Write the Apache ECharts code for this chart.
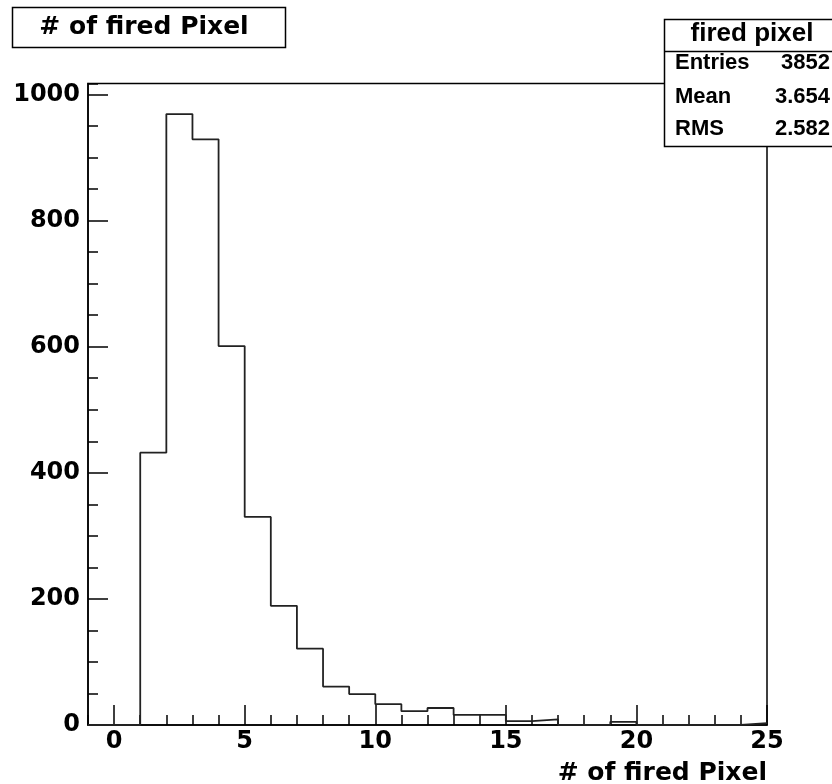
<!DOCTYPE html>
<html>
<head>
<meta charset="utf-8">
<title># of fired Pixel</title>
<script src="https://cdn.jsdelivr.net/npm/echarts@6/dist/echarts.min.js"></script>
<style>
  html, body { margin: 0; padding: 0; background: #fff; }
  #chart { width: 832px; height: 784px; }
</style>
</head>
<body>
<div id="chart"></div>
<script>
// Histogram of the number of fired pixels per event (bin width 1).
const binLowEdges = [-1, 0, 1, 2, 3, 4, 5, 6, 7, 8, 9, 10, 11, 12, 13, 14, 15, 16, 17, 18, 19, 20, 21, 22, 23, 24];
const binCounts   = [0, 0, 432, 969, 929, 601, 330, 189, 121, 61, 49, 33, 22, 27, 16, 16, 6, 9, 0, 0, 5, 0, 0, 0, 0, 3];
const binWidth = 1;

// Axis ranges and labelled tick positions
const xRange = [-1, 25];
const yRange = [0, 1017.5];
const xMajorTicks = [0, 5, 10, 15, 20, 25];
const yMajorTicks = [0, 200, 400, 600, 800, 1000];

// Statistics box contents
const statsTitle = 'fired pixel';
const statsNames = ['Entries', 'Mean', 'RMS'];
const statsValues = ['3852', '3.654', '2.582'];

const histTitle = '# of fired Pixel';
const xTitle = '# of fired Pixel';

// Histogram outline in data space: flat top over each bin, joined edge to edge
const outline = [];
binLowEdges.forEach((lo, i) => {
  outline.push([lo, binCounts[i]]);
  outline.push([lo + binWidth, binCounts[i]]);
});

const labelFont = {
  fontFamily: 'DejaVu Sans',
  fontWeight: 'bold',
  fontSize: 24,
  color: '#000'
};
const plainNumber = v => String(v);

const frameColor = '#000';

const statsTop = 19, statsLeft = 664, statsSep = 51, statsBottom = 146;
const statsRowY = [63, 97, 128.5];

const graphics = [
  {
    type: 'rect',
    shape: { x: 12.5, y: 7.5, width: 273, height: 40 },
    style: { fill: '#fff', stroke: '#000', lineWidth: 1.5 }
  },
  {
    type: 'text',
    x: 144, y: 27.5,
    style: {
      text: histTitle, textAlign: 'center', textVerticalAlign: 'middle',
      fontFamily: 'DejaVu Sans', fontWeight: 'bold', fontSize: 25, fill: '#000'
    }
  },
  {
    type: 'rect',
    z: 10,
    shape: { x: statsLeft + 0.5, y: statsTop + 0.5, width: 200, height: statsBottom - statsTop },
    style: { fill: '#fff', stroke: '#000', lineWidth: 1.5 }
  },
  {
    type: 'line',
    z: 11,
    shape: { x1: statsLeft, y1: statsSep + 0.5, x2: 832, y2: statsSep + 0.5 },
    style: { stroke: '#000', lineWidth: 1.5 }
  },
  {
    type: 'text',
    z: 11,
    x: 752, y: 34,
    style: {
      text: statsTitle, textAlign: 'center', textVerticalAlign: 'middle',
      fontFamily: 'Liberation Sans', fontWeight: 'bold', fontSize: 26, fill: '#000'
    }
  }
];
statsNames.forEach((name, i) => {
  graphics.push({
    type: 'text', z: 11, x: 675, y: statsRowY[i],
    style: {
      text: name, textAlign: 'left', textVerticalAlign: 'middle',
      fontFamily: 'Liberation Sans', fontWeight: 'bold', fontSize: 22, fill: '#000'
    }
  });
  graphics.push({
    type: 'text', z: 11, x: 830, y: statsRowY[i],
    style: {
      text: statsValues[i], textAlign: 'right', textVerticalAlign: 'middle',
      fontFamily: 'Liberation Sans', fontWeight: 'bold', fontSize: 22, fill: '#000'
    }
  });
});

const chart = echarts.init(document.getElementById('chart'), null, { renderer: 'canvas' });

chart.setOption({
  animation: false,
  backgroundColor: '#fff',
  grid: {
    left: 88, top: 83.5, right: 65, bottom: 59,
    containLabel: false,
    outerBoundsMode: 'none',
    show: true, borderColor: frameColor, borderWidth: 1.5, backgroundColor: 'transparent'
  },
  xAxis: [
    {
      type: 'value', position: 'bottom',
      min: xRange[0], max: xRange[1], interval: 1,
      axisLine: { show: true, onZero: false, lineStyle: { color: frameColor, width: 1.5 } },
      axisTick: { show: true, inside: true, length: 20, customValues: xMajorTicks,
                  lineStyle: { color: '#000', width: 1.5 } },
      axisLabel: Object.assign({ customValues: xMajorTicks, margin: 5, formatter: plainNumber }, labelFont),
      splitLine: { show: false },
      name: xTitle,
      nameLocation: 'end',
      nameGap: 0,
      nameTextStyle: {
        fontFamily: 'DejaVu Sans', fontWeight: 'bold', fontSize: 25, color: '#000',
        align: 'right', verticalAlign: 'top', padding: [36, 0, 0, 0]
      }
    },
    {
      type: 'value', position: 'bottom',
      min: xRange[0], max: xRange[1], interval: 1,
      axisLine: { show: false, onZero: false },
      axisTick: { show: true, inside: true, length: 10, lineStyle: { color: '#000', width: 1.5 } },
      axisLabel: { show: false },
      splitLine: { show: false }
    }
  ],
  yAxis: [
    {
      type: 'value', position: 'left',
      min: yRange[0], max: yRange[1], interval: 50,
      axisLine: { show: true, onZero: false, lineStyle: { color: frameColor, width: 1.5 } },
      axisTick: { show: true, inside: true, length: 20, customValues: yMajorTicks,
                  lineStyle: { color: '#000', width: 1.5 } },
      axisLabel: Object.assign({ customValues: yMajorTicks, margin: 8, formatter: plainNumber }, labelFont),
      splitLine: { show: false }
    },
    {
      type: 'value', position: 'left',
      min: yRange[0], max: yRange[1], interval: 50,
      axisLine: { show: false, onZero: false },
      axisTick: { show: true, inside: true, length: 10, lineStyle: { color: '#000', width: 1.5 } },
      axisLabel: { show: false },
      splitLine: { show: false }
    }
  ],
  series: [
    {
      name: statsTitle,
      type: 'line',
      xAxisIndex: 0, yAxisIndex: 0,
      data: outline,
      showSymbol: false,
      symbol: 'none',
      lineStyle: { color: '#222', width: 1.8 },
      z: 5
    }
  ],
  graphic: graphics
});
</script>
</body>
</html>
